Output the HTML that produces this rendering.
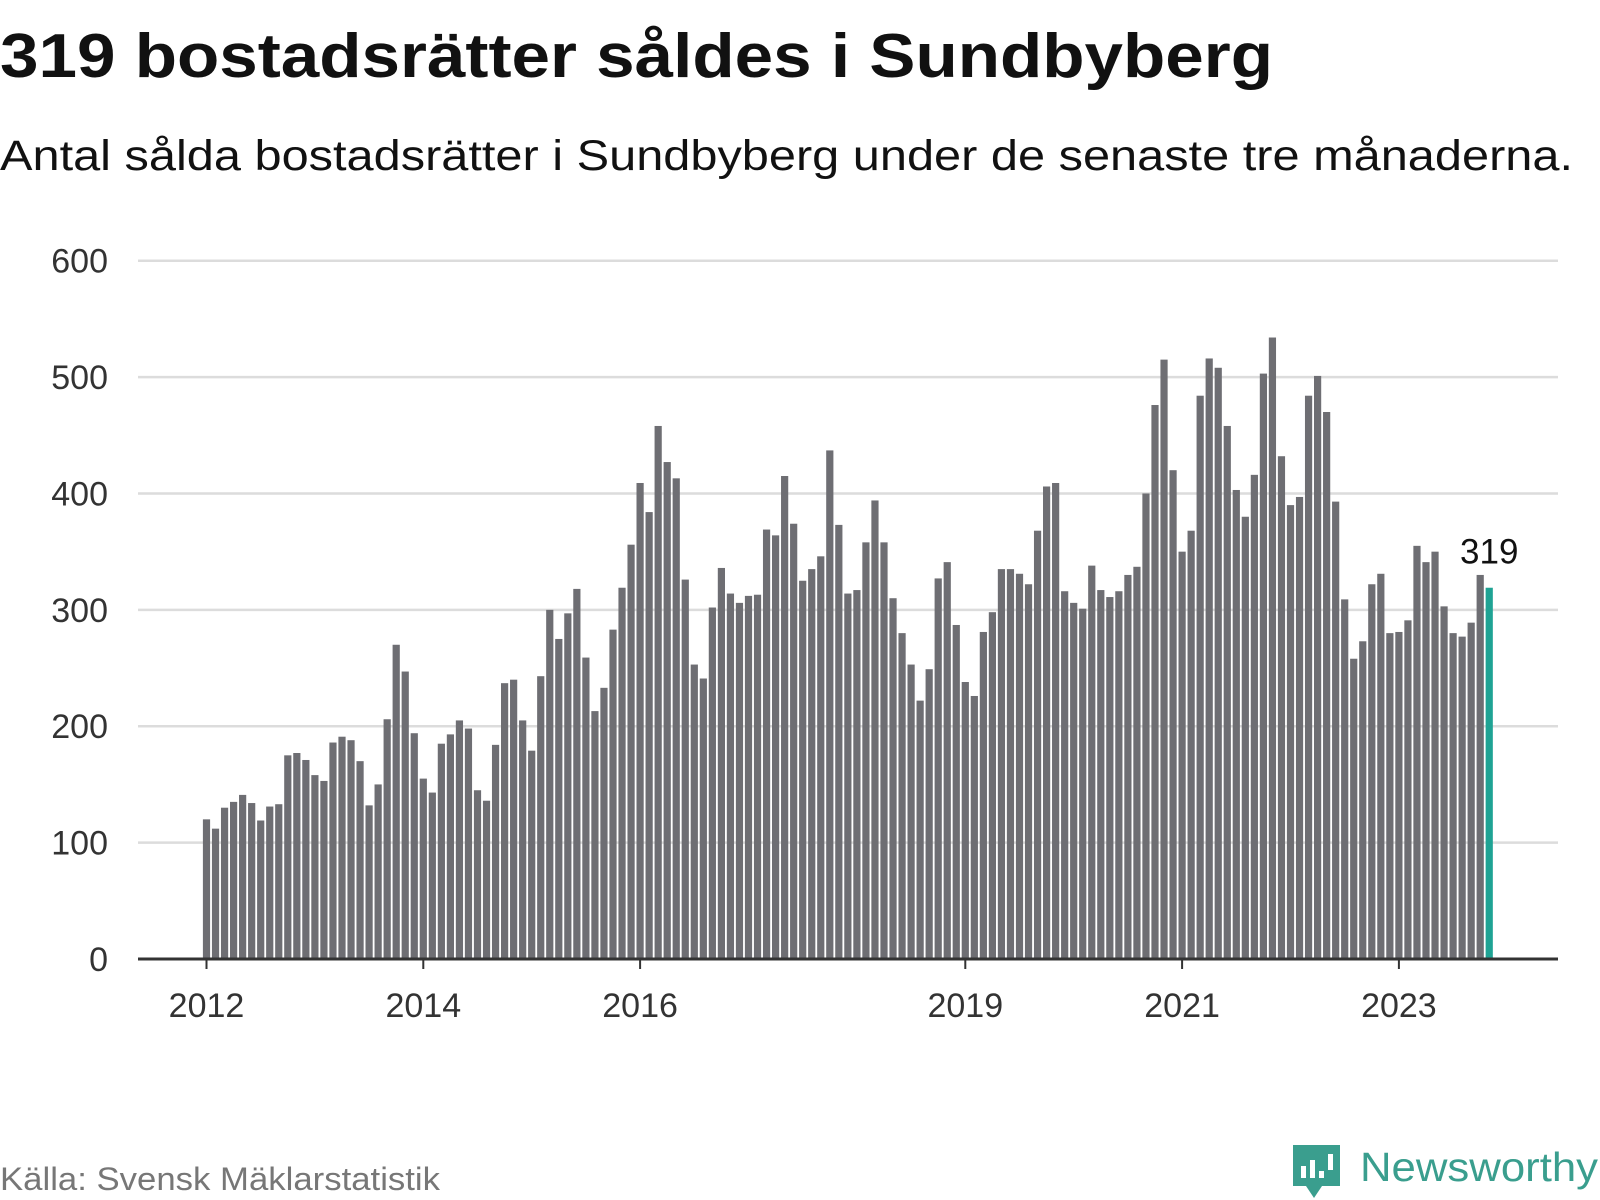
<!DOCTYPE html>
<html><head><meta charset="utf-8">
<style>
html,body{margin:0;padding:0;background:#fff;}
svg{display:block;font-family:"Liberation Sans",sans-serif;}
</style></head>
<body>
<svg id="chart" width="1600" height="1200" viewBox="0 0 1600 1200">
<text x="0" y="77" font-size="62" font-weight="bold" fill="#111" textLength="1273" lengthAdjust="spacingAndGlyphs">319 bostadsrätter såldes i Sundbyberg</text>
<text x="0" y="170" font-size="43" fill="#111" textLength="1573" lengthAdjust="spacingAndGlyphs">Antal sålda bostadsrätter i Sundbyberg under de senaste tre månaderna.</text>
<g id="grid"></g>
<g id="bars"></g>
<g id="xaxis"></g>
<text x="0" y="1190" font-size="32" fill="#777" textLength="440" lengthAdjust="spacingAndGlyphs">Källa: Svensk Mäklarstatistik</text>
<g>
<path d="M1293 1145 h47 v41 h-18 l-8 12 l-8 -12 h-13 z" fill="#3a9e8e"/>
<rect x="1301" y="1166" width="5" height="12" fill="#fff"/>
<rect x="1310" y="1160" width="5" height="18" fill="#fff"/>
<rect x="1319" y="1171" width="5" height="7" fill="#fff"/>
<rect x="1328" y="1154" width="5" height="16" fill="#fff"/>
<text x="1360" y="1181" font-size="41" fill="#3a9e8e" textLength="238" lengthAdjust="spacingAndGlyphs">Newsworthy</text>
</g>
</svg>
<script>
const values = [
120,112,130,135,141,134,119,131,133,175,177,171,
158,153,186,191,188,170,132,150,206,270,247,194,
155,143,185,193,205,198,145,136,184,237,240,205,
179,243,300,275,297,318,259,213,233,283,319,356,
409,384,458,427,413,326,253,241,302,336,314,306,
312,313,369,364,415,374,325,335,346,437,373,314,
317,358,394,358,310,280,253,222,249,327,341,287,
238,226,281,298,335,335,331,322,368,406,409,316,
306,301,338,317,311,316,330,337,400,476,515,420,
350,368,484,516,508,458,403,380,416,503,534,432,
390,397,484,501,470,393,309,258,273,322,331,280,
281,291,355,341,350,303,280,277,289,330,319
];
const yTicks = [0,100,200,300,400,500,600];
const xTickYears = [2012,2014,2016,2019,2021,2023];
const startYear = 2012;

const NS="http://www.w3.org/2000/svg";
const x0=206.5, monthW=108.4/12, y0=959, pxPer=(959-260.7)/600;
const xL=138, xR=1558;
const xScale=i=>x0+i*monthW;
const yScale=v=>y0-v*pxPer;
const grid=document.getElementById('grid'), bars=document.getElementById('bars'), xa=document.getElementById('xaxis');
function mk(tag,attrs,parent){const e=document.createElementNS(NS,tag);for(const k in attrs)e.setAttribute(k,attrs[k]);parent.appendChild(e);return e;}
yTicks.forEach(t=>{
  if(t>0){
    const l=mk('line',{x1:xL,x2:xR,y1:yScale(t),y2:yScale(t),stroke:'#dcdcdc','stroke-width':2.5},grid);
    
    
  }
  const tx=mk('text',{x:108,y:yScale(t)+12,'font-size':34,fill:'#333','text-anchor':'end'},grid);
  tx.textContent=t;
  
  
});
values.forEach((v,i)=>{
  const last=i===values.length-1;
  const r=mk('rect',{x:xScale(i)-3.6,y:yScale(v),width:7.2,height:v*pxPer,fill:last?'#1fa394':'#6e6e73'},bars);
  
  
  if(last){
    const lab=mk('text',{x:xScale(i),y:yScale(v)-24,'font-size':35,fill:'#111','text-anchor':'middle'},bars);
    lab.textContent=v;
    
    
  }
});
const ax=mk('line',{x1:xL,x2:xR,y1:y0,y2:y0,stroke:'#333','stroke-width':3},xa);


xTickYears.forEach(yr=>{
  const xp=xScale((yr-startYear)*12);
  const tk=mk('line',{x1:xp,x2:xp,y1:y0,y2:y0+10,stroke:'#333','stroke-width':2},xa);
  
  
  const tx=mk('text',{x:xp,y:1017,'font-size':34,fill:'#333','text-anchor':'middle'},xa);
  tx.textContent=yr;
  
  
});
</script>
</body></html>
